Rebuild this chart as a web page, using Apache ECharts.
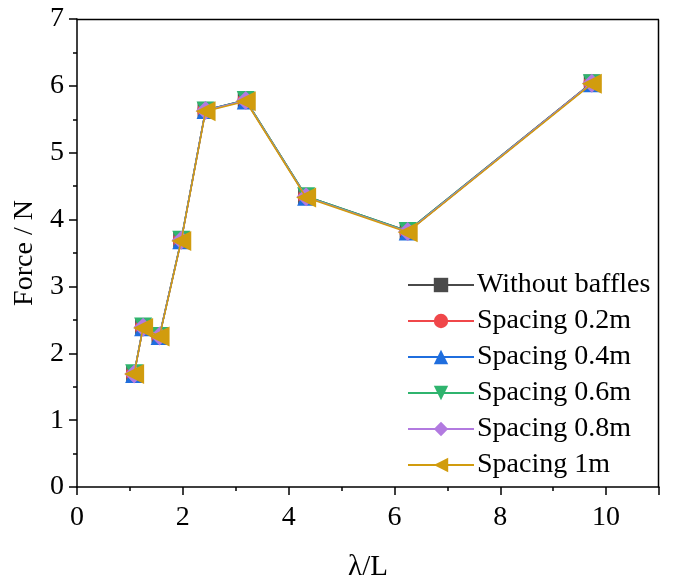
<!DOCTYPE html>
<html>
<head>
<meta charset="utf-8">
<script src="https://cdn.jsdelivr.net/npm/echarts@6/dist/echarts.min.js"></script>
<style>
  html, body { margin: 0; padding: 0; background: #fff; }
  #chart { width: 673px; height: 581px; }
</style>
</head>
<body>
<div id="chart"></div>
<script>
// Wavelength ratio λ/L and measured force for each baffle configuration
const lambdaRatio = [1.08, 1.25, 1.56, 1.97, 2.43, 3.19, 4.33, 6.25, 9.73];
const withoutBaffles = [1.70, 2.40, 2.27, 3.70, 5.64, 5.79, 4.35, 3.83, 6.05];
const spacing02 = [1.69, 2.39, 2.26, 3.69, 5.63, 5.78, 4.34, 3.82, 6.04];
const spacing04 = [1.69, 2.39, 2.26, 3.69, 5.64, 5.78, 4.34, 3.82, 6.04];
const spacing06 = [1.70, 2.40, 2.26, 3.70, 5.63, 5.79, 4.35, 3.83, 6.04];
const spacing08 = [1.69, 2.39, 2.26, 3.69, 5.63, 5.78, 4.34, 3.82, 6.04];
const spacing1 = [1.69, 2.38, 2.25, 3.68, 5.62, 5.77, 4.33, 3.81, 6.03];

const seriesNames = ['Without baffles', 'Spacing 0.2m', 'Spacing 0.4m', 'Spacing 0.6m', 'Spacing 0.8m', 'Spacing 1m'];
const seriesValues = [withoutBaffles, spacing02, spacing04, spacing06, spacing08, spacing1];
const colors = ['#4a4a4a', '#f0474a', '#1f6ede', '#2fb46e', '#b27ae0', '#d19c0e'];
const symbols = ['rect', 'circle', 'triangle', 'triangle', 'diamond', 'triangle'];
const rotations = [0, 0, 0, 180, 0, 90];
const symbolSizes = [16, 17, 18, 18, 19, 20];

const font = '"Liberation Serif", "Times New Roman", serif';

const series = seriesNames.map((name, i) => ({
  name: name,
  type: 'line',
  data: lambdaRatio.map((x, k) => [x, seriesValues[i][k]]),
  symbol: symbols[i],
  symbolRotate: rotations[i],
  symbolSize: symbolSizes[i],
  lineStyle: { color: colors[i], width: 1.5 },
  itemStyle: { color: colors[i] },
  z: 2 + i
}));

const chart = echarts.init(document.getElementById('chart'), null, { renderer: 'canvas' });
chart.setOption({
  animation: false,
  backgroundColor: '#fff',
  grid: { left: 77, right: 14, top: 19, bottom: 94, containLabel: false, outerBoundsMode: 'none' },
  xAxis: {
    type: 'value',
    min: 0, max: 11, interval: 2,
    name: 'λ/L',
    nameLocation: 'middle',
    nameGap: 66,
    nameTextStyle: { fontFamily: font, fontSize: 29, color: '#000' },
    axisLine: { show: true, onZero: false, lineStyle: { color: '#000', width: 1.5 } },
    axisTick: { show: true, inside: false, length: 8, lineStyle: { color: '#000', width: 1.5 } },
    minorTick: { show: true, splitNumber: 2, length: 4, lineStyle: { color: '#000', width: 1.5 } },
    axisLabel: { fontFamily: font, fontSize: 28, color: '#000', margin: 17, showMaxLabel: false },
    splitLine: { show: false }
  },
  yAxis: {
    type: 'value',
    min: 0, max: 7, interval: 1,
    name: 'Force / N',
    nameLocation: 'middle',
    nameGap: 30,
    nameTextStyle: { fontFamily: font, fontSize: 28, color: '#000' },
    axisLine: { show: true, onZero: false, lineStyle: { color: '#000', width: 1.5 } },
    axisTick: { show: true, inside: false, length: 8, lineStyle: { color: '#000', width: 1.5 } },
    minorTick: { show: true, splitNumber: 2, length: 4, lineStyle: { color: '#000', width: 1.5 } },
    axisLabel: { fontFamily: font, fontSize: 28, color: '#000', margin: 13 },
    splitLine: { show: false }
  },
  legend: {
    orient: 'vertical',
    left: 402,
    top: 266,
    itemWidth: 66,
    itemHeight: 18,
    itemGap: 8,
    textStyle: { fontFamily: font, fontSize: 28, color: '#000', padding: [0, 0, 0, -2] },
    data: seriesNames
  },
  graphic: [
    // top and right frame lines of the plotting area
    { type: 'line', shape: { x1: 76.5, y1: 19.5, x2: 659, y2: 19.5 }, style: { stroke: '#000', lineWidth: 1.5 }, silent: true },
    { type: 'line', shape: { x1: 658.5, y1: 19.5, x2: 658.5, y2: 487.5 }, style: { stroke: '#000', lineWidth: 1.5 }, silent: true }
  ],
  series: series
});
</script>
</body>
</html>
